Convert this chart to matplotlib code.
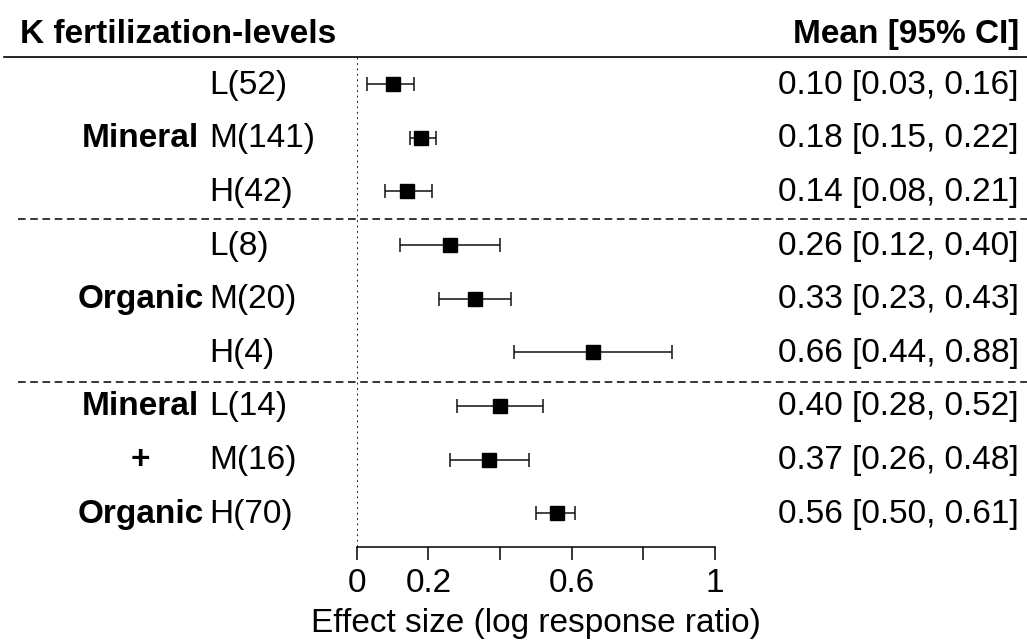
import matplotlib
matplotlib.use("Agg")
import matplotlib.pyplot as plt
from matplotlib.lines import Line2D
import matplotlib.transforms as mtransforms

plt.rcParams['font.family'] = ['Liberation Sans', 'DejaVu Sans']

# ---- data ----
levels = ["L(52)", "M(141)", "H(42)", "L(8)", "M(20)", "H(4)", "L(14)", "M(16)", "H(70)"]
side_labels = ["", "Mineral", "", "", "Organic", "", "Mineral", "+", "Organic"]
means = [0.10, 0.18, 0.14, 0.26, 0.33, 0.66, 0.40, 0.37, 0.56]
lower = [0.03, 0.15, 0.08, 0.12, 0.23, 0.44, 0.28, 0.26, 0.50]
upper = [0.16, 0.22, 0.21, 0.40, 0.43, 0.88, 0.52, 0.48, 0.61]
xticks = [0, 0.2, 0.4, 0.6, 0.8, 1.0]
xticklabels = ["0", "0.2", "", "0.6", "", "1"]
header_left = "K fertilization-levels"
header_right = "Mean [95% CI]"
xlabel = "Effect size (log response ratio)"
separators = [2.52, 5.55]

W, H = 1027, 641
fig = plt.figure(figsize=(W / 100, H / 100), dpi=100)
fs = 24

def fx(px):
    return px / W

def fy(py):
    return (H - py) / H

ax = fig.add_axes([fx(356.7), fy(547.3), fx(715) - fx(356.7), fy(57.3) - fy(547.3)])
ax.set_xlim(0, 1)
ax.set_ylim(8.634, -0.5)

rows = list(range(len(levels)))
xerr = [[m - l for m, l in zip(means, lower)], [u - m for m, u in zip(means, upper)]]
ax.errorbar(means, rows, xerr=xerr, fmt='none', ecolor='#111111', elinewidth=1.1,
            capsize=4.7, capthick=1.1, zorder=3)
ax.plot(means, rows, linestyle='none', marker='s', markersize=10.6,
        color='black', zorder=4)

ax.axvline(0, color='black', lw=1.3, linestyle=(0, (1, 2)), zorder=1)

for s in ['top', 'right', 'left']:
    ax.spines[s].set_visible(False)
ax.spines['bottom'].set_linewidth(1.1)
ax.set_yticks([])
ax.set_xticks(xticks)
ax.set_xticklabels(xticklabels, fontsize=fs)
ax.tick_params(axis='x', direction='out', length=9, width=1.1, pad=6)

# blended transform: x in figure coords, y in data coords
trans = mtransforms.blended_transform_factory(fig.transFigure, ax.transData)
base_off = 0.177  # baseline offset below row centre (in rows)

for r in rows:
    y = r + base_off
    ax.text(fx(209), y, levels[r], transform=trans, fontsize=fs,
            ha='left', va='baseline', clip_on=False)
    if side_labels[r]:
        ax.text(fx(140.5), y, side_labels[r], transform=trans, fontsize=fs,
                ha='center', va='baseline', fontweight='bold', clip_on=False)
    ax.text(fx(1019), y, f"{means[r]:.2f} [{lower[r]:.2f}, {upper[r]:.2f}]",
            transform=trans, fontsize=fs, ha='right', va='baseline', clip_on=False)

# separators
for sy in separators:
    fig.add_artist(Line2D([fx(18), 1.0], [sy, sy], transform=trans, color='black',
                          lw=1.1, linestyle=(0, (5, 3))))
# top solid line
fig.add_artist(Line2D([fx(4), 1.0], [fy(57.3), fy(57.3)], transform=fig.transFigure,
                      color='black', lw=1.2))

# headers
fig.text(fx(19.5), fy(43.3), header_left, fontsize=fs, fontweight='bold',
         ha='left', va='baseline')
fig.text(fx(1019), fy(43.3), header_right, fontsize=fs, fontweight='bold',
         ha='right', va='baseline')

fig.text(fx(535.9), fy(632), xlabel, fontsize=fs, ha='center', va='baseline')

fig.savefig("out.png", dpi=100)
